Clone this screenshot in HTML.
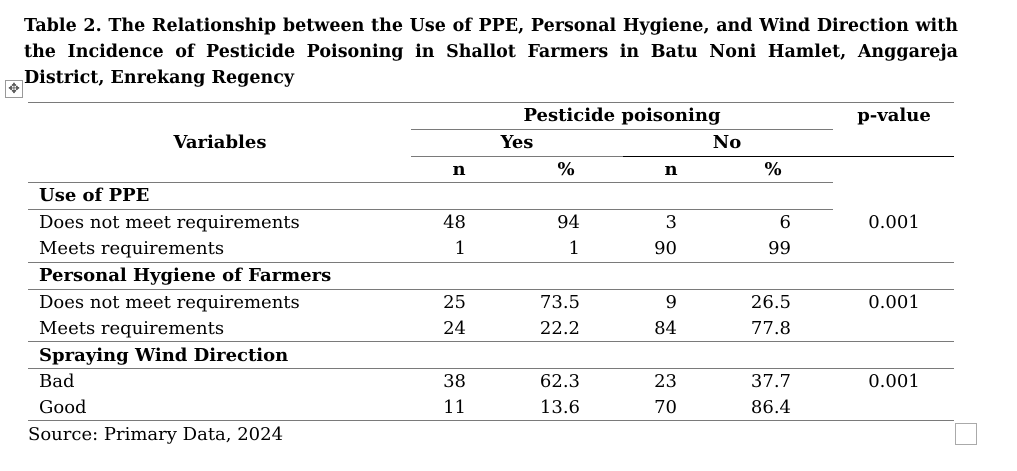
<!DOCTYPE html>
<html><head><meta charset="utf-8"><style>
body{margin:0;width:1017px;height:471px;background:#fff;position:relative;overflow:hidden;font-family:"DejaVu Serif","Liberation Serif",serif;color:#000}
.t{position:absolute;font-size:18px;line-height:26px;white-space:nowrap}
.b{font-weight:bold}
.r{text-align:right}
.c{text-align:center}
.h{position:absolute;height:1px;background:#7a7a7a}
.ti{position:absolute;left:24px;width:934px;font-weight:bold;font-size:17.5px;line-height:26px;white-space:nowrap}
.j{text-align:justify;text-align-last:justify}
</style></head><body>
<div class="ti j" style="top:13px">Table 2. The Relationship between the Use of PPE, Personal Hygiene, and Wind Direction with</div>
<div class="ti j" style="top:39px">the Incidence of Pesticide Poisoning in Shallot Farmers in Batu Noni Hamlet, Anggareja</div>
<div class="ti" style="top:65px">District, Enrekang Regency</div>
<div style="position:absolute;left:5px;top:80px;width:18px;height:18px;border:1px solid #999;box-sizing:border-box;color:#555;font-size:14px;line-height:16px;text-align:center">✥</div>
<div style="position:absolute;left:955px;top:423px;width:22px;height:22px;border:1px solid #aaa;box-sizing:border-box"></div>

<div class="h" style="left:28px;width:926px;top:102px"></div>
<div class="h" style="left:411px;width:422px;top:129px"></div>
<div class="h" style="left:411px;width:212px;top:156px"></div>
<div class="h" style="left:623px;width:331px;top:156px;background:#000"></div>
<div class="h" style="left:28px;width:805px;top:182px"></div>
<div class="h" style="left:28px;width:805px;top:209px"></div>
<div class="h" style="left:28px;width:926px;top:262px"></div>
<div class="h" style="left:28px;width:926px;top:289px"></div>
<div class="h" style="left:28px;width:926px;top:341px"></div>
<div class="h" style="left:28px;width:926px;top:368px"></div>
<div class="h" style="left:28px;width:926px;top:420px"></div>

<div class="t b c" style="left:512px;width:220px;top:103px">Pesticide poisoning</div>
<div class="t b c" style="left:834px;width:120px;top:103px">p-value</div>
<div class="t b c" style="left:120px;width:200px;top:130px">Variables</div>
<div class="t b c" style="left:467px;width:100px;top:130px">Yes</div>
<div class="t b c" style="left:677px;width:100px;top:130px">No</div>
<div class="t b c" style="left:439px;width:40px;top:157px">n</div>
<div class="t b c" style="left:546px;width:40px;top:157px">%</div>
<div class="t b c" style="left:651px;width:40px;top:157px">n</div>
<div class="t b c" style="left:753px;width:40px;top:157px">%</div>

<div class="t b" style="left:39px;top:183px">Use of PPE</div>
<div class="t" style="left:39px;top:210px">Does not meet requirements</div>
<div class="t" style="left:39px;top:236px">Meets requirements</div>
<div class="t b" style="left:39px;top:263px">Personal Hygiene of Farmers</div>
<div class="t" style="left:39px;top:290px">Does not meet requirements</div>
<div class="t" style="left:39px;top:316px">Meets requirements</div>
<div class="t b" style="left:39px;top:343px">Spraying Wind Direction</div>
<div class="t" style="left:39px;top:369px">Bad</div>
<div class="t" style="left:39px;top:395px">Good</div>
<div class="t" style="left:28px;top:422px">Source: Primary Data, 2024</div>

<div class="t r" style="left:380px;width:86px;top:210px">48<br>1</div>
<div class="t r" style="left:480px;width:100px;top:210px">94<br>1</div>
<div class="t r" style="left:600px;width:77px;top:210px">3<br>90</div>
<div class="t r" style="left:700px;width:91px;top:210px">6<br>99</div>
<div class="t c" style="left:834px;width:120px;top:210px">0.001</div>

<div class="t r" style="left:380px;width:86px;top:290px">25<br>24</div>
<div class="t r" style="left:480px;width:100px;top:290px">73.5<br>22.2</div>
<div class="t r" style="left:600px;width:77px;top:290px">9<br>84</div>
<div class="t r" style="left:700px;width:91px;top:290px">26.5<br>77.8</div>
<div class="t c" style="left:834px;width:120px;top:290px">0.001</div>

<div class="t r" style="left:380px;width:86px;top:369px">38<br>11</div>
<div class="t r" style="left:480px;width:100px;top:369px">62.3<br>13.6</div>
<div class="t r" style="left:600px;width:77px;top:369px">23<br>70</div>
<div class="t r" style="left:700px;width:91px;top:369px">37.7<br>86.4</div>
<div class="t c" style="left:834px;width:120px;top:369px">0.001</div>
</body></html>
